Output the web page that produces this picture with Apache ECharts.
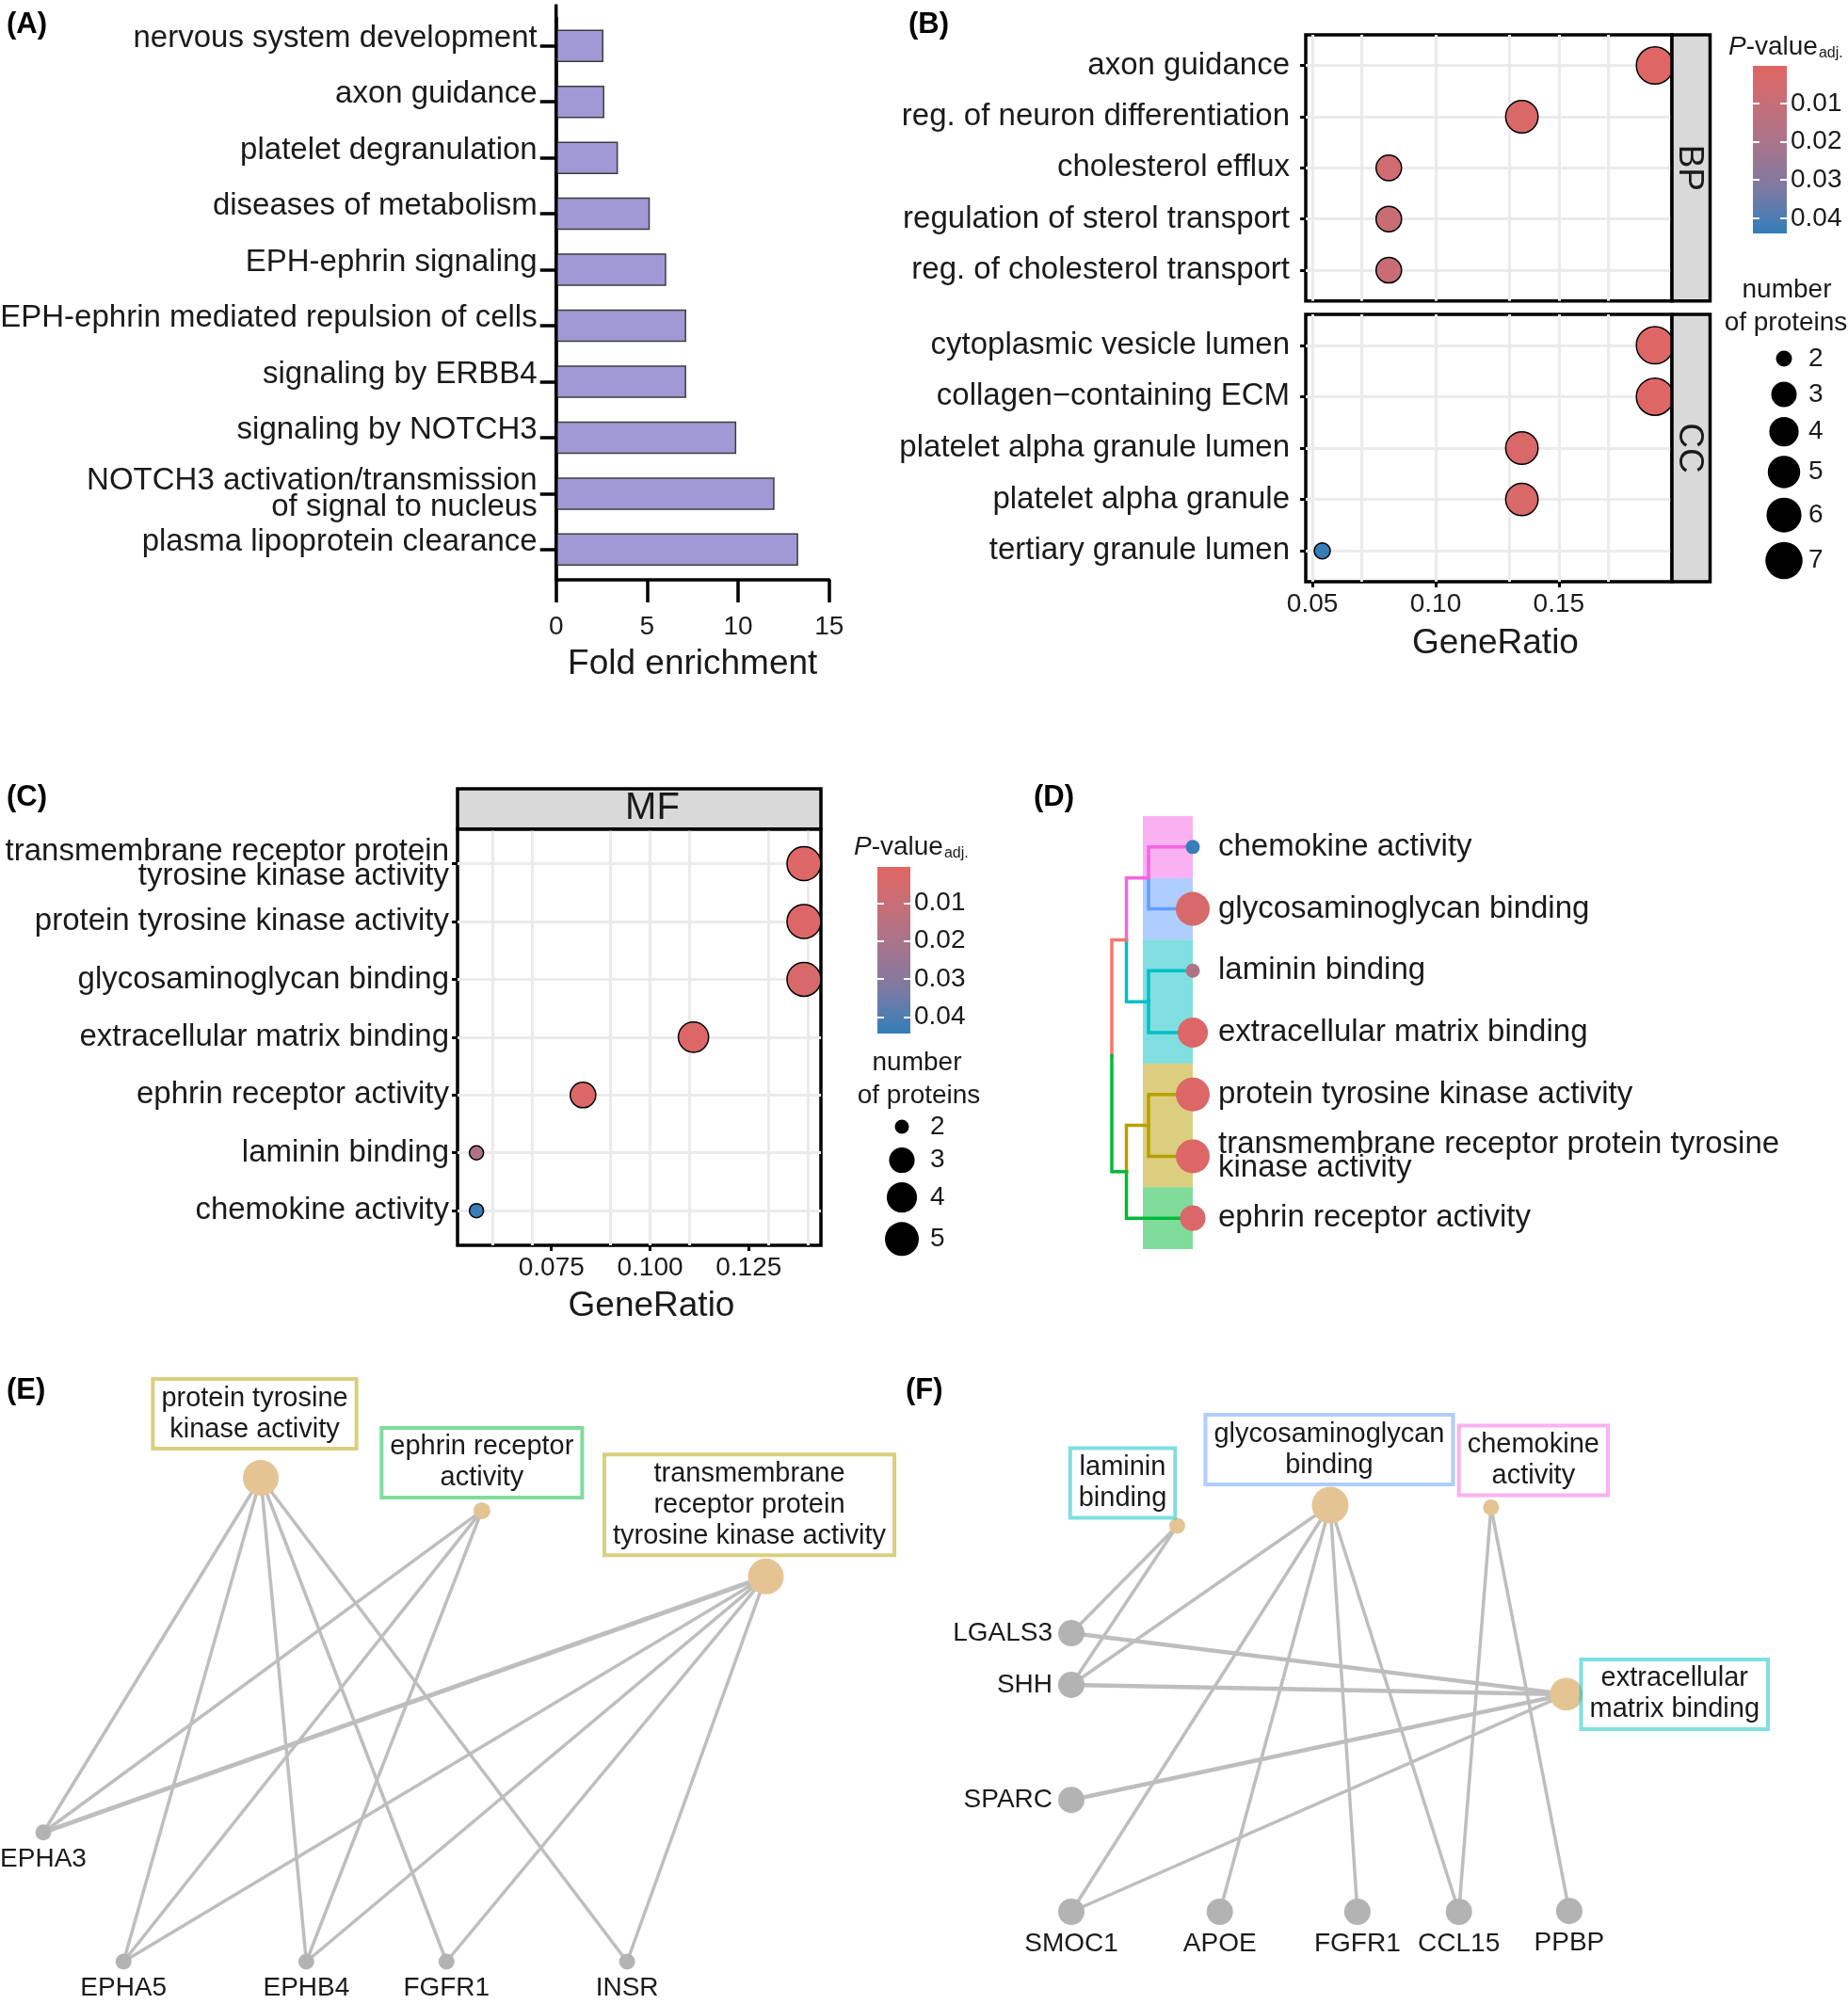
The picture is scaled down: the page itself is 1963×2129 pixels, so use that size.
<!DOCTYPE html>
<html>
<head>
<meta charset="utf-8">
<title>Enrichment figure</title>
<script src="https://cdn.jsdelivr.net/npm/echarts@6.0.0/dist/echarts.min.js"></script>
<style>
html,body{margin:0;padding:0;background:#ffffff;}
#chart{width:1963px;height:2129px;}
</style>
</head>
<body>
<div id="chart"></div>
<script>
// ---------------- DATA ----------------
// Panel A
const aCategories = ['nervous system development','axon guidance','platelet degranulation','diseases of metabolism','EPH-ephrin signaling','EPH-ephrin mediated repulsion of cells','signaling by ERBB4','signaling by NOTCH3','NOTCH3 activation/transmission\nof signal to nucleus','plasma lipoprotein clearance'];
const aFoldEnrichment = [2.6, 2.65, 3.4, 5.15, 6.05, 7.15, 7.15, 9.9, 12.0, 13.3];
const aTicks = [0, 5, 10, 15];

// Panel B
const bpTerms = ['axon guidance','reg. of neuron differentiation','cholesterol efflux','regulation of sterol transport','reg. of cholesterol transport'];
const bpGeneRatio = [0.189, 0.135, 0.081, 0.081, 0.081];
const bpCount = [7, 5, 3, 3, 3];
const bpPadj = [0.001, 0.003, 0.007, 0.009, 0.009];
const ccTerms = ['cytoplasmic vesicle lumen','collagen\u2212containing ECM','platelet alpha granule lumen','platelet alpha granule','tertiary granule lumen'];
const ccGeneRatio = [0.189, 0.189, 0.135, 0.135, 0.054];
const ccCount = [7, 7, 5, 5, 2];
const ccPadj = [0.001, 0.001, 0.003, 0.003, 0.0435];
const bRatioRange = [0.0473, 0.1959];
const bRatioTicks = [0.05, 0.10, 0.15];
const bPadjRange = [0.0001, 0.044];
const bPadjTicks = [0.01, 0.02, 0.03, 0.04];
const bSizeLegend = [2, 3, 4, 5, 6, 7];
const bFacets = ['BP', 'CC'];

// Panel C
const mfTerms = ['transmembrane receptor protein\ntyrosine kinase activity','protein tyrosine kinase activity','glycosaminoglycan binding','extracellular matrix binding','ephrin receptor activity','laminin binding','chemokine activity'];
const mfGeneRatio = [0.139, 0.139, 0.139, 0.111, 0.083, 0.056, 0.056];
const mfCount = [5, 5, 5, 4, 3, 2, 2];
const mfPadj = [0.002, 0.002, 0.004, 0.002, 0.003, 0.018, 0.0435];
const cRatioRange = [0.0512, 0.1433];
const cRatioTicks = [0.075, 0.100, 0.125];
const cPadjRange = [0.0005, 0.0444];
const cPadjTicks = [0.01, 0.02, 0.03, 0.04];
const cSizeLegend = [2, 3, 4, 5];
const cFacet = 'MF';

// Panel D (tree of MF terms)
const dLabels = ['chemokine activity','glycosaminoglycan binding','laminin binding','extracellular matrix binding','protein tyrosine kinase activity','transmembrane receptor protein tyrosine\nkinase activity','ephrin receptor activity'];
const dTermIndex = [6, 2, 5, 3, 1, 0, 4];
const dLeafCluster = [5, 4, 3, 3, 1, 1, 2];
// [child a, child b, height, branch cluster]
const dMerges = [[0,1,1.0,5],[2,3,1.0,3],[4,5,1.0,1],[7,8,1.5,0],[9,6,1.5,2],[10,11,1.83,null]];
const dBandDepth = 1.128;

// Panel E (network)
const eTermNames = ['protein tyrosine\nkinase activity','ephrin receptor\nactivity','transmembrane\nreceptor protein\ntyrosine kinase activity'];
const eTermPos = [[30.1,0],[60.7,6.8],[100,20.4]];
const eTermGenes = [5, 3, 5];
const eTermCluster = [1, 2, 1];
const eGeneNames = ['EPHA3','EPHA5','EPHB4','FGFR1','INSR'];
const eGenePos = [[0,73.3],[11.1,100],[36.4,100],[55.8,100],[80.8,100]];
const eEdges = [[0,'EPHA3'],[0,'EPHA5'],[0,'EPHB4'],[0,'FGFR1'],[0,'INSR'],[1,'EPHA3'],[1,'EPHA5'],[1,'EPHB4'],[2,'EPHA3'],[2,'EPHA5'],[2,'EPHB4'],[2,'FGFR1'],[2,'INSR']];

// Panel F (network)
const fTermNames = ['laminin\nbinding','glycosaminoglycan\nbinding','chemokine\nactivity','extracellular\nmatrix binding'];
const fTermPos = [[21.4,5.1],[52.3,0],[84.8,0.6],[100,46.5]];
const fTermGenes = [2, 5, 2, 4];
const fTermCluster = [3, 4, 5, 3];
const fGeneNames = ['LGALS3','SHH','SPARC','SMOC1','APOE','FGFR1 ','CCL15','PPBP'];
const fGenePos = [[0,31.5],[0,44.2],[0,72.5],[0,100],[30.0,100],[57.8,100],[78.3,100],[100.6,99.8]];
const fEdges = [[0,'LGALS3'],[0,'SHH'],[1,'SHH'],[1,'SMOC1'],[1,'APOE'],[1,'FGFR1 '],[1,'CCL15'],[2,'CCL15'],[2,'PPBP'],[3,'LGALS3'],[3,'SHH'],[3,'SPARC'],[3,'SMOC1']];

const panelLetters = ['(A)','(B)','(C)','(D)','(E)','(F)'];

// ---------------- STYLE / LAYOUT ----------------
const FONT = '"Liberation Sans", Arial, Helvetica, sans-serif';
const TXT = '#1a1a1a';
const pStops = ['#E06663','#C46F79','#A3758E','#7A7AA4','#327EBA'];
const hue = ['#F8766D','#B79F00','#00BA38','#00BFC4','#619CFF','#F564E3'];
function rgba(hex, a) { const n = parseInt(hex.slice(1), 16); return 'rgba(' + ((n >> 16) & 255) + ',' + ((n >> 8) & 255) + ',' + (n & 255) + ',' + a + ')'; }

const L = {
  A:   {left: 590.7, top: 19,    width: 290,   height: 594.6},
  BP:  {left: 1387,  top: 37,    width: 389,   height: 282.7},
  CC:  {left: 1387,  top: 334,   width: 389,   height: 284},
  BCB: {left: 1862,  top: 70,    width: 36,    height: 178},
  MF:  {left: 486,   top: 880.7, width: 386,   height: 442.3},
  CCB: {left: 932,   top: 921,   width: 35,    height: 177},
  D:   {left: 1173,  top: 867,   width: 94,    height: 460},
  E:   {left: 46,    top: 1570,  width: 767.5, height: 514},
  F:   {left: 1138,  top: 1599,  width: 531,   height: 432}
};
const A_AXIS_OFFSET = 2.4, A_AXIS_TOP = 4.6;
const letterPos = [[7,11],[965,11],[7,832],[1098,832],[7,1462],[962,1462]];

const sizeB = n => 17 + 22.5 * Math.sqrt((n - bSizeLegend[0]) / (bSizeLegend[bSizeLegend.length-1] - bSizeLegend[0]));
const sizeC = n => 15 + 21 * Math.sqrt((n - cSizeLegend[0]) / (cSizeLegend[cSizeLegend.length-1] - cSizeLegend[0]));
const sizeE = n => 18 + 20 * Math.sqrt((n - 3) / 2);
const sizeF = n => 17 + 22 * Math.sqrt((n - 2) / 3);

// ---------------- BUILD ----------------
const chart = echarts.init(document.getElementById('chart'), null, {renderer: 'canvas', width: 1963, height: 2129});

const gridList = [L.A, L.BP, L.CC, L.BCB, L.MF, L.CCB, L.D, L.E, L.F].map(g => Object.assign({containLabel: false, outerBoundsMode: 'none'}, g));
[1, 2, 4].forEach(i => Object.assign(gridList[i], {show: true, borderColor: '#000', borderWidth: 3.5, backgroundColor: '#fff'}));

function ratioAxis(gi, range, ticks, digits, showLabels, nameShift) {
  const ax = {gridIndex: gi, type: 'value', min: range[0], max: range[1], axisLine: {show: false}, splitLine: {show: false}};
  if (showLabels) {
    ax.axisTick = {show: true, customValues: ticks, length: 6, lineStyle: {color: '#000', width: 3}};
    ax.axisLabel = {show: true, customValues: ticks, formatter: v => v.toFixed(digits), fontSize: 28, color: TXT, margin: 10, fontFamily: FONT};
    ax.name = 'GeneRatio'; ax.nameLocation = 'middle'; ax.nameGap = 47;
    ax.nameTextStyle = {fontSize: 37, color: TXT, fontFamily: FONT, padding: [0, 0, 0, nameShift * 2]};
  } else {
    ax.axisTick = {show: false}; ax.axisLabel = {show: false};
  }
  return ax;
}
function termAxis(gi, terms, margin, lineH) {
  const vals = terms.map((_, i) => i + 1);
  return {gridIndex: gi, type: 'value', min: 0.4, max: terms.length + 0.6, inverse: true,
    axisLine: {show: false}, splitLine: {show: false},
    axisTick: {show: true, customValues: vals, length: 6, lineStyle: {color: '#000', width: 3}},
    axisLabel: {show: true, customValues: vals, formatter: v => terms[Math.round(v) - 1], fontSize: 33, color: TXT, margin: margin, lineHeight: lineH, fontFamily: FONT}};
}
function cbAxis(gi, range, ticks, pos) {
  return {gridIndex: gi, type: 'value', min: range[0], max: range[1], inverse: true, position: pos, z: 10,
    axisLine: {show: false}, splitLine: {show: false},
    axisTick: {show: true, inside: true, customValues: ticks, length: 7, lineStyle: {color: '#fff', width: 2}},
    axisLabel: pos === 'right' ? {show: true, customValues: ticks, formatter: v => v.toFixed(2), fontSize: 28, color: TXT, margin: 4, fontFamily: FONT} : {show: false}};
}
function gridLineData(range, ticks, nRows) {
  const step = ticks[1] - ticks[0]; const out = [];
  for (let k = -1; ; k++) {
    const v = ticks[0] + k * step / 2;
    if (v > range[1]) break;
    if (v >= range[0]) out.push({xAxis: +v.toFixed(6)});
  }
  for (let r = 1; r <= nRows; r++) out.push({yAxis: r});
  return out;
}
function gridMarkLine(data) {
  return {silent: true, z: 1, symbol: ['none', 'none'], label: {show: false}, emphasis: {disabled: true},
    lineStyle: {color: '#EBEBEB', width: 3, type: 'solid', opacity: 1}, animation: false, data: data};
}
const hidden = gi => ({gridIndex: gi, type: 'value', show: false, min: 0, max: 100});

const xAxes = [
  {gridIndex: 0, type: 'value', min: aTicks[0], max: aTicks[aTicks.length-1], interval: aTicks[1] - aTicks[0], offset: A_AXIS_OFFSET,
    axisLine: {show: true, onZero: false, lineStyle: {color: '#000', width: 3.5}},
    axisTick: {show: true, length: 24, lineStyle: {color: '#000', width: 3.5}},
    axisLabel: {fontSize: 28, color: TXT, margin: 36, fontFamily: FONT}, splitLine: {show: false},
    name: 'Fold enrichment', nameLocation: 'middle', nameGap: 71, nameTextStyle: {fontSize: 37, color: TXT, fontFamily: FONT}},
  ratioAxis(1, bRatioRange, bRatioTicks, 2, false, 0),
  ratioAxis(2, bRatioRange, bRatioTicks, 2, true, 7),
  {gridIndex: 3, type: 'category', data: [''], show: false},
  ratioAxis(4, cRatioRange, cRatioTicks, 3, true, 13),
  {gridIndex: 5, type: 'category', data: [''], show: false},
  {gridIndex: 6, type: 'value', min: 0, max: 2, inverse: true, show: false},
  hidden(7),
  Object.assign(hidden(8), {max: 101})
];
xAxes[4].nameGap = 46.5;

const yAxes = [
  {gridIndex: 0, type: 'category', data: aCategories, inverse: true,
    axisLine: {show: true, lineStyle: {color: '#000', width: 3.5}},
    axisTick: {show: true, alignWithLabel: true, length: 17, lineStyle: {color: '#000', width: 3.5}},
    axisLabel: {interval: 0, fontSize: 33, color: TXT, margin: 20, fontFamily: FONT,
      formatter: v => v.indexOf('\n') >= 0 ? v.split('\n').map(s => '{m|' + s + '}').join('\n') : '{s|' + v + '}',
      rich: {s: {fontSize: 33, color: TXT, fontFamily: FONT, padding: [0, 0, 16, 0]},
             m: {fontSize: 33, color: TXT, fontFamily: FONT, lineHeight: 28}}},
    splitLine: {show: false}},
  termAxis(1, bpTerms, 17, 30),
  termAxis(2, ccTerms, 17, 30),
  cbAxis(3, bPadjRange, bPadjTicks, 'right'),
  termAxis(4, mfTerms, 9, 26),
  cbAxis(5, cPadjRange, cPadjTicks, 'right'),
  {gridIndex: 6, type: 'value', min: 0.5, max: dLabels.length + 0.5, inverse: true, position: 'right',
    axisLine: {show: false}, axisTick: {show: false}, splitLine: {show: false},
    axisLabel: {show: true, customValues: dLabels.map((_, i) => i + 1), formatter: v => dLabels[Math.round(v) - 1], fontSize: 33, color: TXT, margin: 27, lineHeight: 25, fontFamily: FONT}},
  Object.assign(hidden(7), {inverse: true}),
  Object.assign(hidden(8), {inverse: true}),
  cbAxis(3, bPadjRange, bPadjTicks, 'left'),
  cbAxis(5, cPadjRange, cPadjTicks, 'left')
];

const series = [];
// A bars
series.push({type: 'bar', xAxisIndex: 0, yAxisIndex: 0, data: aFoldEnrichment, barWidth: 34.5, silent: true,
  itemStyle: {color: '#A199D5', borderColor: '#3d3d3d', borderWidth: 1.5}});
// B dot plots
const dotStyle = {borderColor: '#000', borderWidth: 1.5, opacity: 1};
const idxBP = series.length;
series.push({type: 'scatter', xAxisIndex: 1, yAxisIndex: 1, z: 3, symbol: 'circle', silent: true,
  data: bpTerms.map((t, i) => [bpGeneRatio[i], i + 1, bpCount[i], bpPadj[i]]),
  symbolSize: v => sizeB(v[2]), itemStyle: dotStyle,
  markLine: gridMarkLine(gridLineData(bRatioRange, bRatioTicks, bpTerms.length))});
const idxCC = series.length;
series.push({type: 'scatter', xAxisIndex: 2, yAxisIndex: 2, z: 3, symbol: 'circle', silent: true,
  data: ccTerms.map((t, i) => [ccGeneRatio[i], i + 1, ccCount[i], ccPadj[i]]),
  symbolSize: v => sizeB(v[2]), itemStyle: dotStyle,
  markLine: gridMarkLine(gridLineData(bRatioRange, bRatioTicks, ccTerms.length))});
const makeGradient = () => new echarts.graphic.LinearGradient(0, 0, 0, 1, pStops.map((c, i) => ({offset: i / (pStops.length - 1), color: c})));
series.push({type: 'bar', xAxisIndex: 3, yAxisIndex: 3, data: [bPadjRange[1]], barWidth: '100%', silent: true, z: 1, itemStyle: {color: makeGradient()}});
// C dot plot
const idxMF = series.length;
series.push({type: 'scatter', xAxisIndex: 4, yAxisIndex: 4, z: 3, symbol: 'circle', silent: true,
  data: mfTerms.map((t, i) => [mfGeneRatio[i], i + 1, mfCount[i], mfPadj[i]]),
  symbolSize: v => sizeC(v[2]), itemStyle: dotStyle,
  markLine: gridMarkLine(gridLineData(cRatioRange, cRatioTicks, mfTerms.length))});
series.push({type: 'bar', xAxisIndex: 5, yAxisIndex: 5, data: [cPadjRange[1]], barWidth: '100%', silent: true, z: 1, itemStyle: {color: makeGradient()}});

// D tree
const nLeaf = dLabels.length;
const nodeX = dLabels.map(() => 0), nodeY = dLabels.map((_, i) => i + 1);
const nodeCl = dLeafCluster.slice(); const parent = [];
dMerges.forEach((m, k) => {
  const id = nLeaf + k;
  nodeX[id] = m[2]; nodeY[id] = (nodeY[m[0]] + nodeY[m[1]]) / 2; nodeCl[id] = m[3];
  parent[m[0]] = id; parent[m[1]] = id;
});
const treeLines = [];
for (let id = 0; id < nodeX.length; id++) {
  const p = parent[id]; if (p === undefined) continue;
  treeLines.push({coords: [[nodeX[p], nodeY[p]], [nodeX[p], nodeY[id]], [nodeX[id], nodeY[id]]], lineStyle: {color: hue[nodeCl[id]]}});
}
const bands = [];
let s = 0;
for (let i = 1; i <= nLeaf; i++) {
  if (i === nLeaf || dLeafCluster[i] !== dLeafCluster[s]) {
    bands.push([{xAxis: 0, yAxis: s + 0.5, itemStyle: {color: rgba(hue[dLeafCluster[s]], 0.5)}}, {xAxis: dBandDepth, yAxis: i + 0.5}]);
    s = i;
  }
}
series.push({type: 'lines', coordinateSystem: 'cartesian2d', xAxisIndex: 6, yAxisIndex: 6, polyline: true, silent: true, z: 2,
  lineStyle: {width: 3.5, opacity: 1, cap: 'square', join: 'miter'}, data: treeLines});
const idxD = series.length;
series.push({type: 'scatter', xAxisIndex: 6, yAxisIndex: 6, z: 3, symbol: 'circle', silent: true,
  data: dTermIndex.map((k, i) => [0, i + 1, mfCount[k], mfPadj[k]]),
  symbolSize: v => sizeC(v[2]), itemStyle: {opacity: 1},
  markArea: {silent: true, z: 1, itemStyle: {opacity: 1}, data: bands}});

// E / F networks
function buildGraph(gi, cfg) {
  const nodes = [];
  cfg.termNames.forEach((t, i) => {
    nodes.push({name: t, value: cfg.termPos[i], symbolSize: cfg.termSize(cfg.termGenes[i]), itemStyle: {color: '#E5C494'},
      label: {show: true, position: 'inside', align: 'center', verticalAlign: 'middle', offset: cfg.termOffset[i],
        fontSize: 29, lineHeight: 33, color: TXT, fontFamily: FONT, backgroundColor: '#fff',
        borderColor: rgba(hue[cfg.termCluster[i]], 0.5), borderWidth: 4, padding: [2, 7]}});
  });
  cfg.geneNames.forEach((g, i) => {
    nodes.push({name: g, value: cfg.genePos[i], symbolSize: cfg.geneSize, itemStyle: {color: '#B3B3B3'},
      label: {show: true, position: cfg.genePlace[i], distance: 6, fontSize: 28, color: TXT, fontFamily: FONT, formatter: g.trim()}});
  });
  const links = cfg.edges.map(e => ({source: cfg.termNames[e[0]], target: e[1], lineStyle: {width: cfg.thick[e[0] + '-' + e[1]] || 3.5}}));
  return {type: 'graph', coordinateSystem: 'cartesian2d', xAxisIndex: gi, yAxisIndex: gi, symbol: 'circle', silent: true,
    edgeSymbol: ['none', 'none'], lineStyle: {color: '#BEBEBE', width: 3.5, opacity: 1, curveness: 0},
    emphasis: {disabled: true}, data: nodes, links: links, z: 2};
}
series.push(buildGraph(7, {termNames: eTermNames, termPos: eTermPos, termGenes: eTermGenes, termCluster: eTermCluster, termSize: sizeE,
  termOffset: [[-6.5, -68], [0, -51], [-17.5, -76]],
  geneNames: eGeneNames, genePos: eGenePos, geneSize: 17, genePlace: ['bottom','bottom','bottom','bottom','bottom'],
  edges: eEdges, thick: {'2-EPHA3': 5}}));
series.push(buildGraph(8, {termNames: fTermNames, termPos: fTermPos, termGenes: fTermGenes, termCluster: fTermCluster, termSize: sizeF,
  termOffset: [[-58, -45.5], [-1, -59], [45, -50], [115, 0]],
  geneNames: fGeneNames, genePos: fGenePos, geneSize: 28, genePlace: ['left','left','left','bottom','bottom','bottom','bottom','bottom'],
  edges: fEdges, thick: {'3-LGALS3': 4.5, '3-SHH': 4.5, '3-SPARC': 4.5}}));

// ---------------- GRAPHIC (strips, legends, labels) ----------------
function txt(x, y, text, o) {
  o = o || {};
  return {type: 'text', x: x, y: y, z: 100, rotation: o.rotation || 0, silent: true,
    style: Object.assign({text: text, fill: o.fill || TXT, fontSize: o.fontSize || 28, fontFamily: FONT,
      fontWeight: o.fontWeight || 'normal', align: o.align || 'left', textAlign: o.align || 'left',
      verticalAlign: o.valign || 'middle', textVerticalAlign: o.valign || 'middle'}, o.extra || {})};
}
function rect(x, y, w, h, fill) {
  return {type: 'rect', z: 90, silent: true, shape: {x: x, y: y, width: w, height: h}, style: {fill: fill, stroke: '#000', lineWidth: 3.5}};
}
function sizeLegend(values, sizeFn, cx, y0, minH, labelX) {
  const els = []; let y = y0, prevH = null;
  values.forEach((n, i) => {
    const d = sizeFn(n), h = Math.max(d + 10, minH);
    if (i > 0) y += (prevH + h) / 2;
    els.push({type: 'circle', z: 100, silent: true, shape: {cx: cx, cy: y, r: d / 2}, style: {fill: '#000'}});
    els.push(txt(labelX, y, String(n)));
    prevH = h;
  });
  return els;
}
function pTitle(x, y) {
  return txt(x, y, '{i|P}{n|-value}{s|adj.}', {extra: {rich: {
    i: {fontStyle: 'italic', fontSize: 28, fontFamily: FONT, fill: TXT},
    n: {fontSize: 28, fontFamily: FONT, fill: TXT},
    s: {fontSize: 16, fontFamily: FONT, fill: TXT, verticalAlign: 'bottom', padding: [14, 0, 0, 1]}}}});
}
const STRIP_W = 40.5, STRIP_H = 42.7;
const graphics = [];
// A: full y-axis line (extends above first bar and down to offset x-axis)
graphics.push({type: 'line', z: 100, silent: true, shape: {x1: L.A.left, y1: A_AXIS_TOP, x2: L.A.left, y2: L.A.top + L.A.height + A_AXIS_OFFSET + 1.75}, style: {stroke: '#000', lineWidth: 3.5}});
// B strips
[L.BP, L.CC].forEach((g, i) => {
  graphics.push(rect(g.left + g.width, g.top, STRIP_W, g.height, '#D9D9D9'));
  graphics.push(txt(g.left + g.width + STRIP_W / 2 - 2, g.top + g.height / 2, bFacets[i], {fontSize: 37, align: 'center', rotation: -Math.PI / 2}));
});
// C strip
graphics.push(rect(L.MF.left, L.MF.top - STRIP_H, L.MF.width, STRIP_H, '#D9D9D9'));
graphics.push(txt(L.MF.left + L.MF.width / 2 + 14, L.MF.top - STRIP_H / 2, cFacet, {fontSize: 40, align: 'center'}));
// legends B
graphics.push(pTitle(1836, 50));
graphics.push(txt(1898, 308, 'number', {align: 'center'}));
graphics.push(txt(1897, 343, 'of proteins', {align: 'center'}));
sizeLegend(bSizeLegend, sizeB, 1895, 381, 38, 1921).forEach(e => graphics.push(e));
// legends C
graphics.push(pTitle(907, 900));
graphics.push(txt(974, 1129, 'number', {align: 'center'}));
graphics.push(txt(976, 1164, 'of proteins', {align: 'center'}));
sizeLegend(cSizeLegend, sizeC, 958, 1197, 34, 988).forEach(e => graphics.push(e));
// panel letters
panelLetters.forEach((t, i) => graphics.push(txt(letterPos[i][0], letterPos[i][1], t, {fontSize: 31, fontWeight: 'bold', valign: 'top', fill: '#000'})));

const option = {
  animation: false,
  backgroundColor: '#ffffff',
  textStyle: {fontFamily: FONT},
  grid: gridList,
  xAxis: xAxes,
  yAxis: yAxes,
  visualMap: [
    {type: 'continuous', show: false, seriesIndex: [idxBP, idxCC], dimension: 3, min: bPadjRange[0], max: bPadjRange[1], inRange: {color: pStops}},
    {type: 'continuous', show: false, seriesIndex: [idxMF, idxD], dimension: 3, min: cPadjRange[0], max: cPadjRange[1], inRange: {color: pStops}}
  ],
  series: series,
  graphic: graphics
};
chart.setOption(option);
</script>
</body>
</html>
